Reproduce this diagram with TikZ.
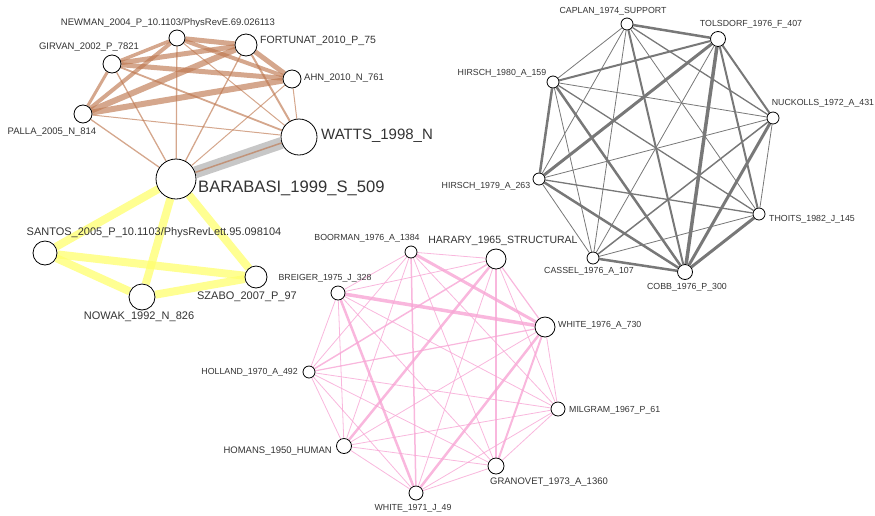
\documentclass[tikz,border=0pt]{standalone}
\usepackage{fontspec}
\setmainfont{Liberation Sans}
\usetikzlibrary{backgrounds}

\definecolor{brownedge}{RGB}{190,120,80}
\definecolor{yellowedge}{RGB}{255,255,110}
\definecolor{greyedge}{RGB}{120,120,120}
\definecolor{pinkedge}{RGB}{247,165,212}
\definecolor{lbltext}{RGB}{51,51,51}

\tikzset{
  paper/.style={circle, draw=black, fill=white, line width=0.8pt, inner sep=0pt},
  lbl/.style={text=lbltext, inner sep=0pt, font=\fontsize{9.5}{10}\selectfont},
  tinylbl/.style={lbl, font=\fontsize{8.8}{9}\selectfont},
  midlbl/.style={lbl, font=\fontsize{10.5}{11}\selectfont},
  largelbl/.style={lbl, font=\fontsize{11}{12}\selectfont},
  biglbl/.style={lbl, font=\fontsize{16}{17}\selectfont},
  brown/.style={draw=brownedge, opacity=0.65},
  yellow/.style={draw=yellowedge, opacity=0.75, line width=8pt},
  grey/.style={draw=greyedge},
  pink/.style={draw=pinkedge, opacity=0.8}
}

\begin{document}
\begin{tikzpicture}[x=1pt, y=-1pt]
  \useasboundingbox (0,0) rectangle (875,515);

  % community 1
  \node[paper, minimum size=16] (newman) at (177,38) {};
  \node[paper, minimum size=18] (girvan) at (112,64) {};
  \node[paper, minimum size=22] (fortunat) at (246,45) {};
  \node[paper, minimum size=18] (ahn) at (292,79) {};
  \node[paper, minimum size=18] (palla) at (83,114) {};
  \node[paper, minimum size=36] (watts) at (299,137) {};
  \node[paper, minimum size=40] (barabasi) at (176,179) {};
  \node[lbl] (newman-l) at (168,23) {NEWMAN\_2004\_P\_10.1103/PhysRevE.69.026113};
  \node[lbl] (girvan-l) at (89,47) {GIRVAN\_2002\_P\_7821};
  \node[midlbl, anchor=west] (fortunat-l) at (260,41) {FORTUNAT\_2010\_P\_75};
  \node[lbl, anchor=west] (ahn-l) at (304,78) {AHN\_2010\_N\_761};
  \node[lbl] (palla-l) at (52,132) {PALLA\_2005\_N\_814};
  \node[lbl, anchor=west, font=\fontsize{15}{16}\selectfont] (watts-l) at (321,136) {WATTS\_1998\_N};
  \node[lbl, anchor=west, font=\fontsize{16.6}{17}\selectfont] (barabasi-l) at (198,188) {BARABASI\_1999\_S\_509};

  % community 2
  \node[paper, minimum size=24] (santos) at (45,253) {};
  \node[paper, minimum size=26] (nowak) at (142,297) {};
  \node[paper, minimum size=22] (szabo) at (256,277) {};
  \node[largelbl] (santos-l) at (154,233) {SANTOS\_2005\_P\_10.1103/PhysRevLett.95.098104};
  \node[largelbl] (nowak-l) at (139,317) {NOWAK\_1992\_N\_826};
  \node[largelbl] (szabo-l) at (247,297) {SZABO\_2007\_P\_97};

  % community 3
  \node[paper, minimum size=12] (caplan) at (627,24) {};
  \node[paper, minimum size=15] (tolsdorf) at (718,39) {};
  \node[paper, minimum size=12] (hirsch80) at (553,82) {};
  \node[paper, minimum size=12] (nuckolls) at (773,118) {};
  \node[paper, minimum size=12] (hirsch79) at (539,179) {};
  \node[paper, minimum size=12] (thoits) at (759,214) {};
  \node[paper, minimum size=12] (cassel) at (593,258) {};
  \node[paper, minimum size=15] (cobb) at (685,272) {};
  \node[tinylbl] (caplan-l) at (613,11) {CAPLAN\_1974\_SUPPORT};
  \node[tinylbl] (tolsdorf-l) at (751,24) {TOLSDORF\_1976\_F\_407};
  \node[tinylbl] (hirsch80-l) at (502,73) {HIRSCH\_1980\_A\_159};
  \node[tinylbl] (nuckolls-l) at (823,103) {NUCKOLLS\_1972\_A\_431};
  \node[tinylbl] (hirsch79-l) at (486,186) {HIRSCH\_1979\_A\_263};
  \node[tinylbl, anchor=west] (thoits-l) at (769,219) {THOITS\_1982\_J\_145};
  \node[tinylbl] (cassel-l) at (589,271) {CASSEL\_1976\_A\_107};
  \node[tinylbl] (cobb-l) at (687,287) {COBB\_1976\_P\_300};

  % community 4
  \node[paper, minimum size=12] (boorman) at (411,252) {};
  \node[paper, minimum size=20] (harary) at (496,259) {};
  \node[paper, minimum size=14] (breiger) at (338,293) {};
  \node[paper, minimum size=20] (white76) at (545,327) {};
  \node[paper, minimum size=12] (holland) at (309,372) {};
  \node[paper, minimum size=14] (milgram) at (558,409) {};
  \node[paper, minimum size=15] (homans) at (344,446) {};
  \node[paper, minimum size=16] (granovet) at (496,466) {};
  \node[paper, minimum size=14] (white71) at (416,493) {};
  \node[tinylbl] (boorman-l) at (367,238) {BOORMAN\_1976\_A\_1384};
  \node[midlbl] (harary-l) at (503,241) {HARARY\_1965\_STRUCTURAL};
  \node[tinylbl] (breiger-l) at (325,278) {BREIGER\_1975\_J\_328};
  \node[tinylbl, anchor=west] (white76-l) at (558,325) {WHITE\_1976\_A\_730};
  \node[tinylbl, anchor=east] (holland-l) at (298,372) {HOLLAND\_1970\_A\_492};
  \node[tinylbl, anchor=west] (milgram-l) at (569,410) {MILGRAM\_1967\_P\_61};
  \node[lbl, anchor=east] (homans-l) at (332,451) {HOMANS\_1950\_HUMAN};
  \node[lbl] (granovet-l) at (549,482) {GRANOVET\_1973\_A\_1360};
  \node[tinylbl] (white71-l) at (413,508) {WHITE\_1971\_J\_49};

  \begin{pgfonlayer}{background}
    \draw[draw=black!22, line width=12pt] (barabasi) -- (watts);
    \foreach \a/\b/\w in {newman/girvan/3.5, newman/fortunat/5, newman/ahn/4,
        newman/palla/4, newman/watts/1, newman/barabasi/1.3, girvan/fortunat/5,
        girvan/ahn/5, girvan/palla/3, girvan/watts/1.8, girvan/barabasi/1.3,
        fortunat/ahn/5, fortunat/palla/6, fortunat/watts/2, fortunat/barabasi/1.3,
        ahn/palla/6, ahn/watts/1, ahn/barabasi/1, palla/watts/1,
        palla/barabasi/1.3, watts/barabasi/1.5}
      \draw[brown, line width=\w] (\a) -- (\b);
    \foreach \a/\b in {barabasi/santos, barabasi/nowak, barabasi/szabo,
        santos/nowak, santos/szabo, nowak/szabo}
      \draw[yellow] (\a) -- (\b);
    \foreach \a/\b/\w in {caplan/tolsdorf/2.5, caplan/hirsch80/0.8,
        caplan/nuckolls/1.3, caplan/hirsch79/0.8, caplan/thoits/0.8,
        caplan/cassel/0.8, caplan/cobb/2, tolsdorf/hirsch80/2,
        tolsdorf/nuckolls/2, tolsdorf/hirsch79/3, tolsdorf/thoits/2,
        tolsdorf/cassel/0.8, tolsdorf/cobb/3.5, hirsch80/nuckolls/0.8,
        hirsch80/hirsch79/2.5, hirsch80/thoits/1.3, hirsch80/cassel/0.8,
        hirsch80/cobb/2.5, nuckolls/hirsch79/0.8, nuckolls/thoits/0.8,
        nuckolls/cassel/1.5, nuckolls/cobb/3, hirsch79/thoits/1.3,
        hirsch79/cassel/0.8, hirsch79/cobb/2.5, thoits/cassel/0.8,
        thoits/cobb/3, cassel/cobb/2.5}
      \draw[grey, line width=\w] (\a) -- (\b);
    \foreach \a/\b/\w in {boorman/harary/0.8, boorman/breiger/0.8,
        boorman/white76/3, boorman/holland/0.8, boorman/milgram/0.8,
        boorman/homans/0.8, boorman/granovet/0.8, boorman/white71/1.5,
        harary/breiger/0.8, harary/white76/1.2, harary/holland/1.5,
        harary/milgram/0.8, harary/homans/2.5, harary/granovet/1.2,
        harary/white71/0.8, breiger/white76/3.5, breiger/holland/0.8,
        breiger/milgram/0.8, breiger/homans/0.8, breiger/granovet/0.8,
        breiger/white71/2.5, white76/holland/1.2, white76/milgram/0.8,
        white76/homans/0.8, white76/granovet/2, white76/white71/2.5,
        holland/milgram/0.8, holland/homans/0.8, holland/granovet/0.8,
        holland/white71/0.8, milgram/homans/0.8, milgram/granovet/0.8,
        milgram/white71/0.8, homans/granovet/0.8, homans/white71/0.8,
        granovet/white71/0.8}
      \draw[pink, line width=\w] (\a) -- (\b);
  \end{pgfonlayer}
\end{tikzpicture}
\end{document}
